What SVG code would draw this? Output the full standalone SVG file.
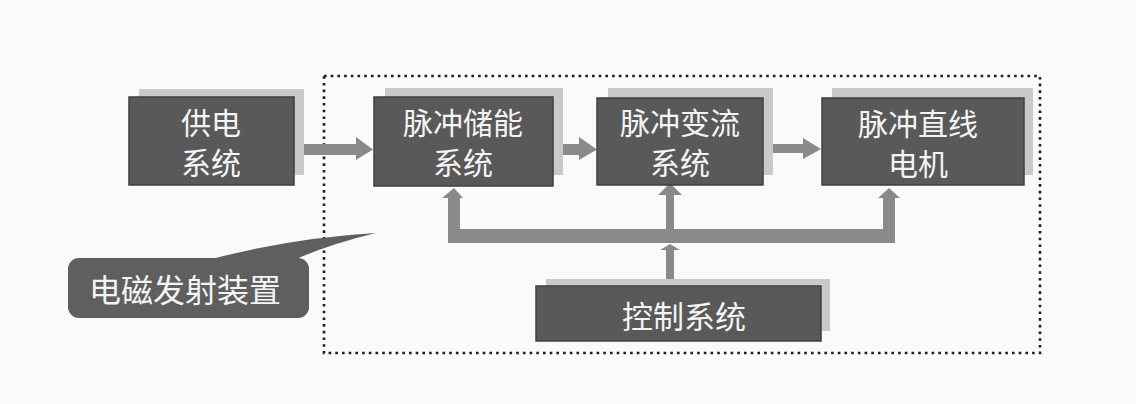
<svg xmlns="http://www.w3.org/2000/svg" width="1136" height="404" viewBox="0 0 1136 404">
<style>
.shadow{fill:#c9c9c9}
.box{fill:#595959;stroke:#3f3f3f;stroke-width:1.5}
.t{font-family:"Noto Sans CJK SC","Noto Sans CJK JP",sans-serif;font-size:30px;fill:#f4f4f4;text-anchor:middle;dominant-baseline:central}
.arr{fill:#8a8a8a}
.frame{fill:none;stroke:#1e1e1e;stroke-width:2.6;stroke-dasharray:2.6 4.1}
</style>
<rect x="0" y="0" width="1136" height="404" fill="#fafafa"/>
<rect class="frame" x="324" y="76" width="716" height="277"/>
<g id="connectors">
  <polygon class="arr" points="294,144 356,144 356,137 373,149.5 356,160 356,155 294,155"/>
  <polygon class="arr" points="553,144 579,144 579,137 597,149.5 579,160 579,155 553,155"/>
  <polygon class="arr" points="763,144 803,144 803,138 821,149 803,159 803,153 763,153"/>
  <polygon class="arr" points="448,243 448,198 442,198 454,188 463,198 460,198 460,229 883,229 883,198 878,198 889,188 900,198 895,198 895,243"/>
  <polygon class="arr" points="666,229 666,195 658,195 670,183 682,195 674,195 674,229"/>
  <polygon class="arr" points="666,286 666,250 660,250 670,244 680,250 674,250 674,286"/>
</g>
<g id="n-supply">
  <rect class="shadow" x="139" y="89" width="165" height="86"/>
  <rect class="box" x="129" y="97" width="165" height="88"/>
  <text class="t" x="211" y="121">供电</text>
  <text class="t" x="211" y="161">系统</text>
</g>
<g id="n-storage">
  <rect class="shadow" x="385" y="88" width="178" height="87"/>
  <rect class="box" x="374" y="97" width="179" height="89"/>
  <text class="t" x="463" y="121">脉冲储能</text>
  <text class="t" x="463" y="161">系统</text>
</g>
<g id="n-converter">
  <rect class="shadow" x="608" y="88" width="165" height="87"/>
  <rect class="box" x="597" y="98" width="166" height="87"/>
  <text class="t" x="680" y="121">脉冲变流</text>
  <text class="t" x="680" y="161">系统</text>
</g>
<g id="n-motor">
  <rect class="shadow" x="832" y="88" width="201" height="87"/>
  <rect class="box" x="822" y="98" width="202" height="87"/>
  <text class="t" x="918" y="122">脉冲直线</text>
  <text class="t" x="918" y="162">电机</text>
</g>
<g id="n-control">
  <rect class="shadow" x="546" y="279" width="284" height="52"/>
  <rect class="box" x="536" y="286" width="285" height="55"/>
  <text class="t" x="684" y="314" style="font-size:31px">控制系统</text>
</g>
<g id="n-label">
  <path d="M 208,260 Q 290,238 376,233 Q 330,244 294,260 Z" fill="#5f5f5f"/>
  <rect x="68" y="258" width="241" height="60" rx="11" ry="11" fill="#5f5f5f"/>
  <text class="t" x="185" y="288" style="font-size:32px">电磁发射装置</text>
</g>
</svg>
